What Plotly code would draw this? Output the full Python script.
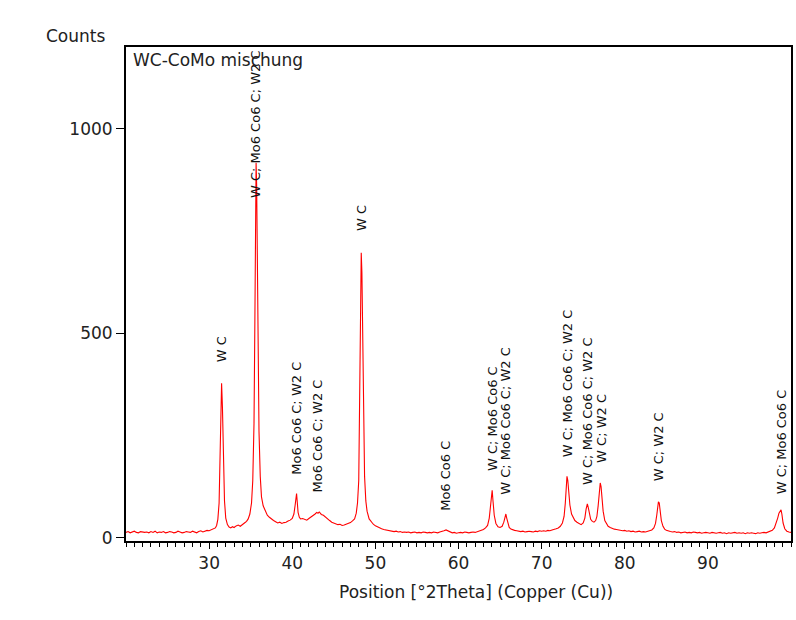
import plotly.graph_objects as go

# ---- data ----
two_theta = [
    20.0, 20.25, 20.5, 20.75, 21.0, 21.25, 21.5, 21.75, 22.0, 22.25,
    22.5, 22.75, 23.0, 23.25, 23.5, 23.75, 24.0, 24.25, 24.5, 24.75,
    25.0, 25.25, 25.5, 25.75, 26.0, 26.25, 26.5, 26.75, 27.0, 27.25,
    27.5, 27.75, 28.0, 28.25, 28.5, 28.75, 29.0, 29.25, 29.5, 29.75,
    30.0, 30.25, 30.5, 30.75, 30.9, 31.05, 31.2, 31.3, 31.4, 31.5,
    31.6, 31.7, 31.85, 32.0, 32.2, 32.4, 32.6, 32.8, 33.0, 33.25,
    33.5, 33.75, 34.0, 34.25, 34.5, 34.7, 34.9, 35.1, 35.25, 35.4,
    35.5, 35.58, 35.65, 35.72, 35.8, 35.9, 36.0, 36.15, 36.3, 36.5,
    36.75, 37.0, 37.25, 37.5, 37.75, 38.0, 38.25, 38.5, 38.75, 39.0,
    39.25, 39.5, 39.75, 40.0, 40.2, 40.35, 40.45, 40.52, 40.6, 40.7,
    40.85, 41.0, 41.25, 41.5, 41.75, 42.0, 42.25, 42.5, 42.75, 42.95,
    43.1, 43.25, 43.5, 43.75, 44.0, 44.25, 44.5, 44.75, 45.0, 45.25,
    45.5, 45.75, 46.0, 46.25, 46.5, 46.75, 47.0, 47.25, 47.5, 47.7,
    47.85, 48.0, 48.1, 48.2, 48.3, 48.38, 48.45, 48.55, 48.7, 48.85,
    49.0, 49.25, 49.5, 49.75, 50.0, 50.25, 50.5, 50.75, 51.0, 51.25,
    51.5, 51.75, 52.0, 52.25, 52.5, 52.75, 53.0, 53.25, 53.5, 53.75,
    54.0, 54.25, 54.5, 54.75, 55.0, 55.25, 55.5, 55.75, 56.0, 56.25,
    56.5, 56.75, 57.0, 57.25, 57.5, 57.75, 58.0, 58.25, 58.5, 58.75,
    59.0, 59.25, 59.5, 59.75, 60.0, 60.25, 60.5, 60.75, 61.0, 61.25,
    61.5, 61.75, 62.0, 62.25, 62.5, 62.75, 63.0, 63.25, 63.5, 63.7,
    63.85, 63.95, 64.05, 64.15, 64.3, 64.5, 64.75, 65.0, 65.25, 65.45,
    65.6, 65.7, 65.8, 65.95, 66.1, 66.3, 66.5, 66.75, 67.0, 67.25,
    67.5, 67.75, 68.0, 68.25, 68.5, 68.75, 69.0, 69.25, 69.5, 69.75,
    70.0, 70.25, 70.5, 70.75, 71.0, 71.25, 71.5, 71.75, 72.0, 72.25,
    72.5, 72.7, 72.85, 72.95, 73.05, 73.15, 73.25, 73.4, 73.6, 73.8,
    74.0, 74.25, 74.5, 74.75, 75.0, 75.2, 75.35, 75.5, 75.6, 75.75,
    75.9, 76.1, 76.3, 76.5, 76.65, 76.8, 76.95, 77.05, 77.15, 77.25,
    77.4, 77.6, 77.8, 78.0, 78.25, 78.5, 78.75, 79.0, 79.25, 79.5,
    79.75, 80.0, 80.25, 80.5, 80.75, 81.0, 81.25, 81.5, 81.75, 82.0,
    82.25, 82.5, 82.75, 83.0, 83.25, 83.5, 83.7, 83.85, 83.95, 84.05,
    84.15, 84.25, 84.4, 84.6, 84.8, 85.0, 85.25, 85.5, 85.75, 86.0,
    86.25, 86.5, 86.75, 87.0, 87.25, 87.5, 87.75, 88.0, 88.25, 88.5,
    88.75, 89.0, 89.25, 89.5, 89.75, 90.0, 90.25, 90.5, 90.75, 91.0,
    91.25, 91.5, 91.75, 92.0, 92.25, 92.5, 92.75, 93.0, 93.25, 93.5,
    93.75, 94.0, 94.25, 94.5, 94.75, 95.0, 95.25, 95.5, 95.75, 96.0,
    96.25, 96.5, 96.75, 97.0, 97.25, 97.5, 97.75, 98.0, 98.2, 98.4,
    98.55, 98.7, 98.8, 98.9, 99.05, 99.25, 99.5, 99.75, 100.0,
]
counts = [
    13, 15, 12, 14, 16, 13, 12, 15, 14, 13,
    14, 12, 15, 13, 16, 12, 14, 13, 15, 12,
    13, 15, 14, 12, 13, 16, 14, 12, 13, 15,
    14, 13, 16, 14, 12, 15, 17, 14, 16, 18,
    17, 19, 21, 24, 30, 45, 85, 170, 300, 378,
    320, 190, 90, 48, 32, 26, 24, 27, 25, 29,
    31, 28, 33, 36, 40, 46, 58, 85, 140, 280,
    520, 780, 917, 860, 700, 430, 260, 150, 100, 78,
    64, 55, 50, 45, 42, 39, 36, 38, 35, 37,
    38, 41, 43, 47, 58, 80, 102, 108, 88, 62,
    50, 46, 47, 44, 43, 47, 50, 53, 58, 62,
    60, 63, 57, 55, 50, 46, 42, 38, 36, 34,
    32, 33, 30, 31, 33, 35, 37, 41, 46, 60,
    85, 140, 300, 560, 697, 648, 520, 300, 150, 90,
    65, 46, 38, 33, 29, 26, 24, 22, 20, 19,
    18, 17, 16, 15, 16, 14, 15, 13, 14, 13,
    14, 12, 13, 14, 12, 13, 12, 14, 13, 12,
    13, 12, 14, 13, 12, 14, 15, 17, 19, 17,
    14, 12, 13, 11, 12, 13, 12, 14, 13, 12,
    13, 14, 13, 15, 16, 18, 20, 24, 30, 48,
    80, 110, 116, 90, 55, 35, 27, 25, 28, 38,
    52, 58, 48, 33, 25, 21, 19, 18, 17, 16,
    15, 16, 14, 15, 16, 15, 14, 16, 15, 17,
    16, 17, 16, 18, 17, 19, 20, 22, 24, 28,
    36, 52, 85, 125, 150, 140, 110, 80, 58, 48,
    42, 38, 34, 32, 36, 48, 70, 83, 75, 55,
    45, 40, 38, 42, 52, 78, 115, 134, 125, 95,
    65, 42, 33, 28, 25, 22, 21, 20, 19, 18,
    17, 18, 16, 17, 15, 16, 14, 15, 16, 14,
    15, 14, 16, 17, 19, 24, 35, 55, 75, 88,
    85, 65, 42, 28, 21, 18, 16, 15, 14, 15,
    13, 14, 12, 13, 14, 12, 13, 12, 14, 13,
    12, 13, 11, 12, 13, 12, 11, 13, 12, 11,
    12, 13, 11, 12, 10, 12, 11, 12, 13, 11,
    12, 11, 12, 10, 12, 11, 12, 11, 10, 12,
    11, 12, 13, 12, 14, 15, 18, 24, 35, 48,
    60, 66, 68, 58, 36, 22, 16, 14, 13,
]

# phase labels: position, label text, level (counts) of the label's base
label_pos = [31.5, 35.65, 40.5, 43.0, 48.3, 58.5, 64.0, 65.7, 73.1, 75.5, 77.2, 84.1, 98.8]
label_text = [
    "W C",
    "W C; Mo6 Co6 C; W2 C",
    "Mo6 Co6 C; W2 C",
    "Mo6 Co6 C; W2 C",
    "W C",
    "Mo6 Co6 C",
    "W C; Mo6 Co6 C",
    "W C; Mo6 Co6 C; W2 C",
    "W C; Mo6 Co6 C; W2 C",
    "W C; Mo6 Co6 C; W2 C",
    "W C; W2 C",
    "W C; W2 C",
    "W C; Mo6 Co6 C",
]
label_base = [423, 826, 149, 105, 746, 61, 159, 100, 193, 125, 178, 134, 100]

x_ticks = [30, 40, 50, 60, 70, 80, 90]
y_ticks = [0, 500, 1000]

FONT = "DejaVu Sans"
TXT = "#222222"

fig = go.Figure()
fig.add_trace(go.Scatter(
    x=two_theta, y=counts, mode="lines",
    line=dict(color="#ff0000", width=1.1),
    hoverinfo="x+y", showlegend=False,
))

annotations = []
for xp, t, yb in zip(label_pos, label_text, label_base):
    annotations.append(dict(
        x=xp, y=yb, xref="x", yref="y", text=t, showarrow=False,
        textangle=-90, xanchor="center", yanchor="bottom",
        font=dict(family=FONT, size=13, color="#111111"),
    ))

annotations += [
    dict(x=-0.123, y=1.0223, xref="paper", yref="paper", text="Counts",
         showarrow=False, xanchor="left", yanchor="middle",
         font=dict(family=FONT, size=17, color=TXT)),
    dict(x=0.0075, y=0.9737, xref="paper", yref="paper", text="WC-CoMo mischung",
         showarrow=False, xanchor="left", yanchor="middle",
         font=dict(family=FONT, size=17, color=TXT)),
    dict(x=0.526, y=-0.103, xref="paper", yref="paper",
         text="Position [°2Theta] (Copper (Cu))",
         showarrow=False, xanchor="center", yanchor="middle",
         font=dict(family=FONT, size=17, color=TXT)),
]

fig.update_layout(
    width=796, height=620,
    margin=dict(l=126, r=3, t=47, b=79),
    paper_bgcolor="white", plot_bgcolor="white",
    font=dict(family=FONT, size=17, color=TXT),
    annotations=annotations,
    xaxis=dict(
        range=[20, 100], tickmode="array", tickvals=x_ticks,
        ticks="outside", ticklen=6, tickwidth=1, tickcolor="black",
        minor=dict(dtick=1, tick0=0, ticks="outside", ticklen=4,
                   tickwidth=1, tickcolor="black", showgrid=False),
        showline=True, linecolor="black", linewidth=2, mirror=True,
        showgrid=False, zeroline=False,
        tickfont=dict(family=FONT, size=17, color=TXT),
    ),
    yaxis=dict(
        range=[-8, 1200], tickmode="array", tickvals=y_ticks,
        ticks="outside", ticklen=8, tickwidth=1, tickcolor="black",
        showline=True, linecolor="black", linewidth=2, mirror=True,
        showgrid=False, zeroline=False,
        tickfont=dict(family=FONT, size=17, color=TXT),
    ),
)

fig.write_html(
    "out.html",
    config={"displayModeBar": False},
    post_script="document.body.style.margin='0';document.body.style.overflow='hidden';",
)
